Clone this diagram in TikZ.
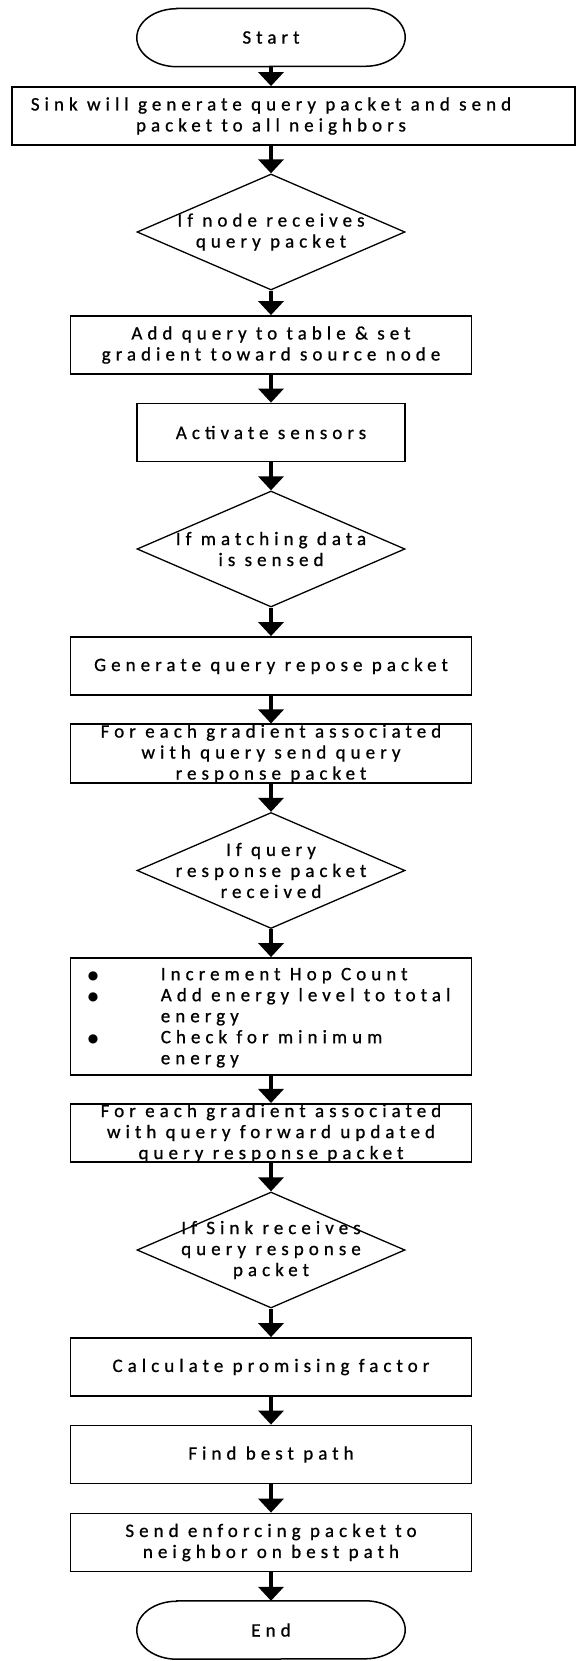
\documentclass[tikz,border=0pt]{standalone}
\usepackage{fontspec}
\setmainfont{Carlito}[LetterSpace=26.5,FakeBold=0.8]
\newfontfamily\dejavubul{DejaVu Sans}
\usetikzlibrary{shapes.geometric,arrows.meta,calc}
\newcommand{\bigbul}{\raisebox{0.5pt}{\dejavubul\fontsize{12}{21}\selectfont ●}}
\begin{document}
\begin{tikzpicture}[x=1pt,y=-1pt,
  font=\fontsize{19}{21}\selectfont,
  box/.style={draw, line width=1.8pt, rectangle, inner sep=0pt, align=center, minimum height=58pt},
  wide/.style={box, minimum width=401pt},
  narrow/.style={box, minimum width=268pt},
  dec/.style={draw, line width=1.3pt, diamond, inner sep=0pt, minimum width=268pt, minimum height=116pt},
  term/.style={rectangle, minimum width=268pt, minimum height=58pt, inner sep=0pt},
  termline/.style={line width=1.5pt},
  flow/.style={line width=4.5pt, -{Triangle[width=25pt,length=14pt]}},
  dtext/.style={align=center, inner sep=0pt}]
\useasboundingbox (0,0) rectangle (576,1661);

\node[term] (start) at (271,37.5) {Start};
\draw[termline] ($(start.north west)+(40,0)$) -- ($(start.north east)+(-40,0)$)
  arc[start angle=90, end angle=-90, x radius=40pt, y radius=29pt]
  -- ($(start.south west)+(40,0)$)
  arc[start angle=270, end angle=90, x radius=40pt, y radius=29pt] -- cycle;
\node[box, minimum width=563pt, label={[dtext, xshift=-22.5pt]center:Sink will generate query packet and send\\packet to all neighbors}] (b1) at (293.5,116) {};
\node[dec, label={[dtext]center:If node receives\\query packet}] (d1) at (271,232) {};
\node[wide] (b2) at (271,345) {Add query to table \& set\\gradient toward source node};
\node[narrow] (b3) at (271,432.5) {Activate sensors};
\node[dec, label={[dtext]center:If matching data\\is sensed}] (d2) at (271,549) {};
\node[wide] (b4) at (271,666) {Generate query repose packet};
\node[wide] (b5) at (271,753.5) {For each gradient associated\\with query send query\\response packet};
\node[dec, label={[dtext]center:If query\\response packet\\received}] (d3) at (271,870.5) {};
\node[wide, minimum height=117pt] (b6) at (271,1016.5) {};
\node[anchor=west, inner sep=0pt, align=left] (b6t) at ([xshift=18pt,yshift=-1.5pt]b6.west) {\begin{tabular}{@{}p{73pt}@{}l@{}}
\bigbul&Increment Hop Count\\
\bigbul&Add energy level to total\\
&energy\\
\bigbul&Check for minimum\\
&energy
\end{tabular}};
\node[wide] (b7) at (271,1133) {For each gradient associated\\with query forward updated\\query response packet};
\node[dec, label={[dtext]center:If Sink receives\\query response\\packet}] (d4) at (271,1250) {};
\node[wide] (b8) at (271,1367) {Calculate promising factor};
\node[wide] (b9) at (271,1454.5) {Find best path};
\node[wide] (b10) at (271,1542.5) {Send enforcing packet to\\neighbor on best path};
\node[term] (end) at (271,1630) {End};
\draw[termline] ($(end.north west)+(40,0)$) -- ($(end.north east)+(-40,0)$)
  arc[start angle=90, end angle=-90, x radius=40pt, y radius=29pt]
  -- ($(end.south west)+(40,0)$)
  arc[start angle=270, end angle=90, x radius=40pt, y radius=29pt] -- cycle;

\draw[flow] (start.south) -- (start.south |- b1.north);
\draw[flow] (b1.south -| d1.north) -- (d1.north);
\draw[flow] (d1.south) -- (b2.north);
\draw[flow] (b2.south) -- (b3.north);
\draw[flow] (b3.south) -- (d2.north);
\draw[flow] (d2.south) -- (b4.north);
\draw[flow] (b4.south) -- (b5.north);
\draw[flow] (b5.south) -- (d3.north);
\draw[flow] (d3.south) -- (b6.north);
\draw[flow] (b6.south) -- (b7.north);
\draw[flow] (b7.south) -- (d4.north);
\draw[flow] (d4.south) -- (b8.north);
\draw[flow] (b8.south) -- (b9.north);
\draw[flow] (b9.south) -- (b10.north);
\draw[flow] (b10.south) -- (end.north);
\end{tikzpicture}
\end{document}
